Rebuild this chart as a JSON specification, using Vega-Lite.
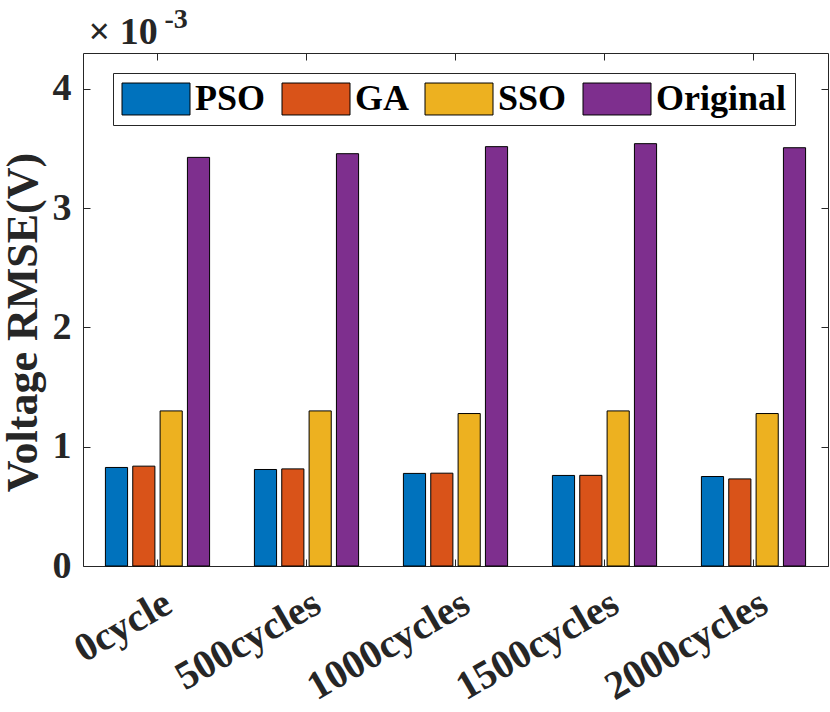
{
  "$schema": "https://vega.github.io/schema/vega-lite/v6.json",
  "width": 745,
  "height": 513,
  "autosize": {"type": "none"},
  "padding": {"left": 83, "top": 53, "right": 2, "bottom": 146},
  "background": "white",
  "config": {
    "font": "Liberation Serif",
    "view": {"stroke": null},
    "axis": {
      "domainColor": "#262626",
      "tickColor": "#262626",
      "labelColor": "#262626",
      "titleColor": "#262626",
      "labelFont": "Liberation Serif",
      "titleFont": "Liberation Serif",
      "labelFontWeight": "bold",
      "titleFontWeight": "bold",
      "grid": false
    }
  },
  "data": {
    "values": [
      {"cycle": "0cycle", "method": "PSO", "rmse": 0.000826},
      {"cycle": "0cycle", "method": "GA", "rmse": 0.000837},
      {"cycle": "0cycle", "method": "SSO", "rmse": 0.0013},
      {"cycle": "0cycle", "method": "Original", "rmse": 0.003425},
      {"cycle": "500cycles", "method": "PSO", "rmse": 0.000809},
      {"cycle": "500cycles", "method": "GA", "rmse": 0.000814},
      {"cycle": "500cycles", "method": "SSO", "rmse": 0.0013},
      {"cycle": "500cycles", "method": "Original", "rmse": 0.003456},
      {"cycle": "1000cycles", "method": "PSO", "rmse": 0.000776},
      {"cycle": "1000cycles", "method": "GA", "rmse": 0.000778},
      {"cycle": "1000cycles", "method": "SSO", "rmse": 0.001278},
      {"cycle": "1000cycles", "method": "Original", "rmse": 0.003515},
      {"cycle": "1500cycles", "method": "PSO", "rmse": 0.000759},
      {"cycle": "1500cycles", "method": "GA", "rmse": 0.00076},
      {"cycle": "1500cycles", "method": "SSO", "rmse": 0.0013},
      {"cycle": "1500cycles", "method": "Original", "rmse": 0.00354},
      {"cycle": "2000cycles", "method": "PSO", "rmse": 0.00075},
      {"cycle": "2000cycles", "method": "GA", "rmse": 0.00073},
      {"cycle": "2000cycles", "method": "SSO", "rmse": 0.001278},
      {"cycle": "2000cycles", "method": "Original", "rmse": 0.003506}
    ]
  },
  "layer": [
    {
      "mark": {"type": "bar", "stroke": "#000000", "strokeWidth": 1},
      "encoding": {
        "x": {
          "field": "cycle",
          "type": "nominal",
          "sort": ["0cycle", "500cycles", "1000cycles", "1500cycles", "2000cycles"],
          "scale": {"paddingInner": 0, "paddingOuter": 0},
          "axis": {
            "orient": "bottom",
            "title": null,
            "labelAngle": -30,
            "labelAlign": "right",
            "labelBaseline": "middle",
            "labelFontSize": 40,
            "labelLimit": 400,
            "labelPadding": 41,
            "labelOffset": 11,
            "tickSize": -7
          }
        },
        "xOffset": {
          "field": "method",
          "sort": ["PSO", "GA", "SSO", "Original"],
          "scale": {"paddingInner": 0.19, "paddingOuter": 0.82}
        },
        "y": {
          "field": "rmse",
          "type": "quantitative",
          "scale": {"domain": [0, 0.0043], "nice": false},
          "axis": {
            "title": "Voltage RMSE(V)",
            "titleFontSize": 44,
            "titlePadding": 7,
            "titleY": 269,
            "values": [0, 0.001, 0.002, 0.003, 0.004],
            "labelExpr": "format(datum.value * 1000, 'd')",
            "labelFontSize": 38,
            "labelPadding": 19,
            "tickSize": -7
          }
        },
        "color": {
          "field": "method",
          "type": "nominal",
          "sort": ["PSO", "GA", "SSO", "Original"],
          "scale": {
            "domain": ["PSO", "GA", "SSO", "Original"],
            "range": ["#0072BD", "#D95319", "#EDB120", "#7E2F8E"]
          },
          "legend": {
            "title": null,
            "orient": "none",
            "legendX": 30,
            "legendY": 20,
            "direction": "horizontal",
            "columns": 4,
            "padding": 8,
            "strokeColor": "#262626",
            "fillColor": "white",
            "labelFont": "Liberation Serif",
            "labelFontSize": 36,
            "labelFontWeight": "bold",
            "labelColor": "#000000",
            "labelOffset": 38,
            "columnPadding": 14,
            "symbolType": "M-1,-0.94H3V0.94H-1Z",
            "symbolSize": 1156,
            "symbolStrokeColor": "#000000",
            "symbolStrokeWidth": 1,
            "symbolOpacity": 1
          }
        }
      }
    },
    {
      "mark": {"type": "bar", "opacity": 0},
      "encoding": {
        "x": {
          "field": "cycle",
          "type": "nominal",
          "sort": ["0cycle", "500cycles", "1000cycles", "1500cycles", "2000cycles"],
          "axis": {
            "orient": "top",
            "labels": false,
            "tickSize": -7,
            "title": "× 10",
            "titleFontSize": 38,
            "titleAngle": 0,
            "titleAlign": "left",
            "titleBaseline": "alphabetic",
            "titleAnchor": "start",
            "titleX": 5,
            "titleY": -10
          }
        },
        "y": {
          "field": "rmse",
          "type": "quantitative",
          "axis": {
            "orient": "right",
            "labels": false,
            "values": [0, 0.001, 0.002, 0.003, 0.004],
            "tickSize": -7,
            "title": "-3",
            "titleFontSize": 28,
            "titleAngle": 0,
            "titleAlign": "left",
            "titleBaseline": "alphabetic",
            "titleAnchor": "start",
            "titleX": -664,
            "titleY": -26
          }
        }
      }
    }
  ],
  "resolve": {"axis": {"x": "independent", "y": "independent"}}
}
